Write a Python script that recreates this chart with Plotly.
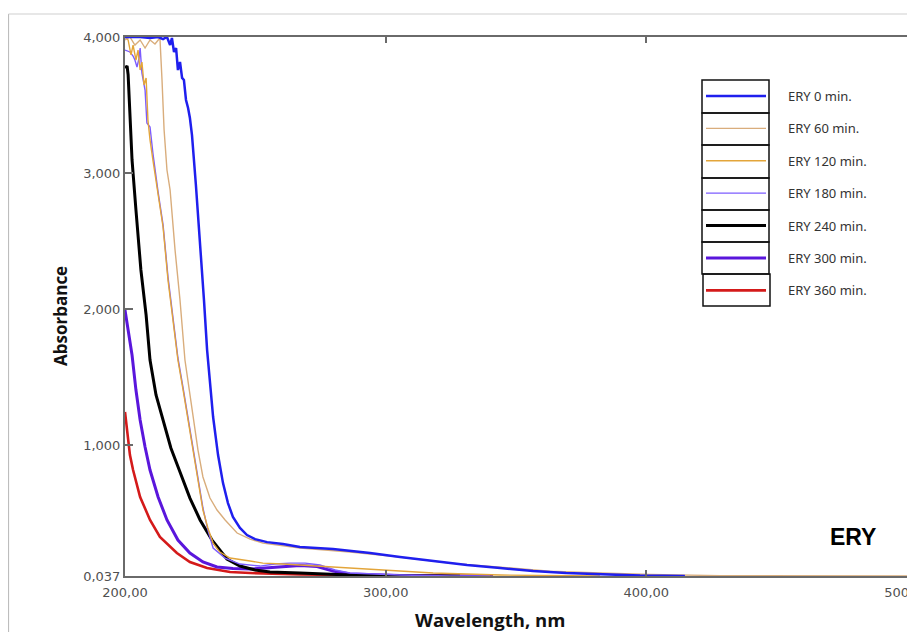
import plotly.graph_objects as go

# ---------------- data (wavelength nm, absorbance) ----------------
series_names = ["ERY 0 min.", "ERY 60 min.", "ERY 120 min.", "ERY 180 min.",
                "ERY 240 min.", "ERY 300 min.", "ERY 360 min."]

wl_0 = [200.0, 205.8, 209.6, 212.7, 214.6, 216.1, 217.3, 218.0, 218.8, 219.6, 220.3, 221.1, 221.9, 222.6,
        223.4, 224.2, 224.9, 225.7, 227.2, 228.8, 230.3, 231.5, 232.6, 233.8, 235.7, 237.6, 239.5, 241.4,
        244.1, 246.8, 249.9, 254.5, 260.6, 267.1, 279.8, 294.0, 305.5, 318.2, 331.2, 343.9, 356.5, 369.2,
        382.2, 397.6, 414.8]
abs_0 = [4.0, 4.0, 3.993, 4.0, 3.985, 4.0, 3.941, 3.993, 3.89, 3.919, 3.757, 3.816, 3.699, 3.684,
         3.537, 3.478, 3.404, 3.279, 2.912, 2.507, 2.066, 1.698, 1.441, 1.206, 0.926, 0.72, 0.573, 0.471,
         0.39, 0.338, 0.308, 0.286, 0.272, 0.25, 0.235, 0.206, 0.176, 0.147, 0.118, 0.096, 0.073, 0.059,
         0.051, 0.04, 0.037]

wl_60 = [200.0, 201.9, 203.8, 205.8, 207.7, 209.6, 211.5, 213.4, 214.2, 215.0, 216.1, 217.3, 219.2, 221.1,
         223.0, 224.6, 226.1, 228.0, 229.9, 232.6, 235.3, 238.4, 243.0, 248.0, 252.9, 267.1, 286.3, 305.5,
         324.7, 343.9, 363.0, 382.2, 401.4, 428.3, 458.9, 500.0]
abs_60 = [3.978, 4.0, 3.941, 3.978, 3.919, 3.978, 3.949, 3.993, 3.684, 3.316, 3.022, 2.875, 2.434, 2.066,
          1.625, 1.404, 1.206, 0.963, 0.765, 0.61, 0.522, 0.449, 0.353, 0.308, 0.279, 0.243, 0.213, 0.176,
          0.132, 0.103, 0.073, 0.059, 0.048, 0.04, 0.037, 0.037]

wl_120 = [200.0, 201.2, 202.3, 203.1, 204.2, 205.0, 205.8, 206.5, 207.3, 208.1, 208.8, 209.6, 210.7, 212.7,
          214.6, 216.5, 218.4, 220.3, 222.3, 224.2, 226.1, 228.0, 229.9, 231.8, 233.8, 236.4, 240.3, 248.0,
          252.9, 260.6, 274.8, 286.3, 305.5, 318.2, 343.9, 366.9, 382.2]
abs_120 = [4.0, 3.978, 3.868, 3.941, 3.831, 3.904, 3.757, 3.816, 3.647, 3.699, 3.39, 3.243, 3.096, 2.838,
           2.603, 2.213, 1.919, 1.625, 1.404, 1.184, 0.963, 0.743, 0.522, 0.39, 0.279, 0.213, 0.169, 0.147,
           0.132, 0.125, 0.11, 0.096, 0.073, 0.059, 0.044, 0.037, 0.037]

wl_180 = [200.0, 201.9, 203.1, 203.8, 204.6, 205.4, 205.8, 206.5, 207.7, 208.4, 209.6, 210.7, 212.7, 214.6,
          216.5, 218.4, 220.3, 222.3, 224.2, 226.1, 228.0, 229.9, 231.8, 233.8, 238.4, 244.1, 251.8, 257.5,
          263.3, 269.1, 274.8, 280.6, 286.3, 305.5, 324.7, 340.0]
abs_180 = [3.904, 3.89, 3.86, 3.831, 3.779, 3.846, 3.919, 3.735, 3.61, 3.368, 3.338, 3.147, 2.86, 2.618,
           2.235, 1.934, 1.64, 1.419, 1.198, 0.978, 0.757, 0.537, 0.375, 0.243, 0.169, 0.125, 0.11, 0.125,
           0.132, 0.132, 0.118, 0.081, 0.059, 0.044, 0.037, 0.037]

wl_240 = [200.0, 200.8, 201.2, 201.9, 202.7, 204.2, 206.1, 208.1, 209.6, 211.9, 214.6, 217.6, 221.1, 224.9,
          228.8, 233.4, 239.1, 244.1, 249.9, 255.6, 267.1, 286.3, 305.5, 328.5]
abs_240 = [3.772, 3.787, 3.721, 3.39, 3.096, 2.728, 2.287, 1.956, 1.625, 1.368, 1.184, 0.978, 0.801, 0.61,
           0.449, 0.301, 0.162, 0.11, 0.081, 0.066, 0.059, 0.044, 0.037, 0.037]

wl_300 = [200.0, 201.2, 202.7, 204.2, 205.8, 207.7, 209.6, 212.7, 216.1, 220.3, 224.9, 229.9, 235.3, 241.4,
          248.0, 253.7, 260.6, 267.1, 273.7, 279.8, 286.3, 305.5, 324.7, 341.2]
abs_300 = [1.993, 1.846, 1.662, 1.404, 1.184, 0.985, 0.816, 0.618, 0.449, 0.301, 0.206, 0.14, 0.103, 0.092,
           0.088, 0.096, 0.107, 0.114, 0.107, 0.073, 0.051, 0.04, 0.037, 0.037]

wl_360 = [200.0, 200.8, 201.9, 203.1, 205.8, 209.6, 213.4, 219.9, 224.9, 231.5, 240.3, 248.0, 267.1, 305.5, 336.2]
abs_360 = [1.243, 1.11, 0.926, 0.816, 0.618, 0.449, 0.324, 0.206, 0.14, 0.096, 0.066, 0.059, 0.048, 0.04, 0.037]

x_tick_vals = [200, 300, 400, 500]
x_tick_text = ["200,00", "300,00", "400,00", "500,00"]
y_tick_vals = [0.037, 1, 2, 3, 4]
y_tick_text = ["0,037", "1,000", "2,000", "3,000", "4,000"]

# ---------------- styling ----------------
# page has an 8px body margin: figure sits at (8, 8) inside the 915x632 window
OFF = 8
FIG_W, FIG_H = 915 - OFF, 632 - OFF
PLOT_L, PLOT_R, PLOT_T, PLOT_B = 125, 907, 37, 576   # plot box in window pixels
ML, MR = PLOT_L - OFF, (FIG_W + OFF) - PLOT_R
MT, MB = PLOT_T - OFF, (FIG_H + OFF) - PLOT_B

colors = ["#1f1fee", "#d9ad7c", "#e3a53a", "#7c5cff", "#000000", "#5a16dc", "#d41a1a"]
widths = [2.5, 1.4, 1.4, 1.4, 3.0, 3.0, 2.6]
xs = [wl_0, wl_60, wl_120, wl_180, wl_240, wl_300, wl_360]
ys = [abs_0, abs_60, abs_120, abs_180, abs_240, abs_300, abs_360]


def px_x(p):
    return (p - PLOT_L) / (PLOT_R - PLOT_L)


def px_y(p):
    return (PLOT_B - p) / (PLOT_B - PLOT_T)


fig = go.Figure()
draw_order = [6, 5, 4, 3, 2, 1, 0]
pad = "\u00a0" * 5
for i in draw_order:
    fig.add_trace(go.Scatter(
        x=xs[i], y=ys[i], mode="lines", name=pad + series_names[i],
        line=dict(color=colors[i], width=widths[i]),
        legendrank=i + 1, legendgroup=str(i),
    ))

axis_font = dict(family="DejaVu Sans", size=13, color="#505050")
fig.update_xaxes(range=[200, 500], tickvals=x_tick_vals, ticktext=x_tick_text,
                 showgrid=False, zeroline=False, showline=True, linecolor="#6a6a6a", linewidth=2,
                 mirror="ticks", ticks="inside", ticklen=6, tickcolor="#6a6a6a", tickwidth=1.5,
                 tickfont=axis_font, ticklabelstandoff=3, ticklabeloverflow="allow")
fig.update_yaxes(range=[0.037, 4.0], tickvals=y_tick_vals, ticktext=y_tick_text,
                 showgrid=False, zeroline=False, showline=True, linecolor="#6a6a6a", linewidth=2,
                 mirror=True, ticks="inside", ticklen=8, tickcolor="#6a6a6a", tickwidth=1.5,
                 tickfont=axis_font)

# legend boxes (decoration)
box_edges = [80, 113, 145, 178, 210, 242, 274, 306]
shapes = []
for k in range(7):
    x0, x1 = (702, 769) if k < 6 else (703, 770)
    shapes.append(dict(type="rect", xref="paper", yref="paper",
                       x0=px_x(x0), x1=px_x(x1), y0=px_y(box_edges[k + 1]), y1=px_y(box_edges[k]),
                       line=dict(color="#111", width=1.5), fillcolor="rgba(0,0,0,0)", layer="below"))
# outer frame of the picture
shapes.append(dict(type="line", xref="paper", yref="paper", x0=px_x(8.5), x1=px_x(8.5),
                   y0=px_y(640), y1=px_y(14), line=dict(color="#bdbdbd", width=1.2)))
shapes.append(dict(type="line", xref="paper", yref="paper", x0=px_x(8.5), x1=px_x(915),
                   y0=px_y(14), y1=px_y(14), line=dict(color="#d0d0d0", width=1.2)))

fig.update_layout(
    width=FIG_W, height=FIG_H, margin=dict(l=ML, r=MR, t=MT, b=MB, autoexpand=False),
    paper_bgcolor="white", plot_bgcolor="white",
    showlegend=True,
    legend=dict(x=px_x(701), y=px_y(81), xanchor="left", yanchor="top",
                bgcolor="rgba(0,0,0,0)", borderwidth=0, itemwidth=60,
                tracegroupgap=12.5, font=dict(family="Noto Sans", size=13, color="#333")),
    shapes=shapes,
    annotations=[
        dict(text="<b>ERY</b>", xref="paper", yref="paper", x=px_x(853), y=px_y(537),
             xanchor="center", yanchor="middle",
             showarrow=False, font=dict(family="Liberation Sans, Arial", size=23, color="#000")),
        dict(text="<b>Absorbance</b>", xref="paper", yref="paper", x=px_x(60), y=px_y(316),
             xanchor="center", yanchor="middle", textangle=-90, showarrow=False,
             font=dict(family="Open Sans", size=17, color="#111")),
        dict(text="<b>Wavelength, nm</b>", xref="paper", yref="paper", x=px_x(490), y=px_y(619),
             xanchor="center", yanchor="middle",
             showarrow=False, font=dict(family="Open Sans", size=18.5, color="#111")),
    ],
)

fig.write_html("out.html")
